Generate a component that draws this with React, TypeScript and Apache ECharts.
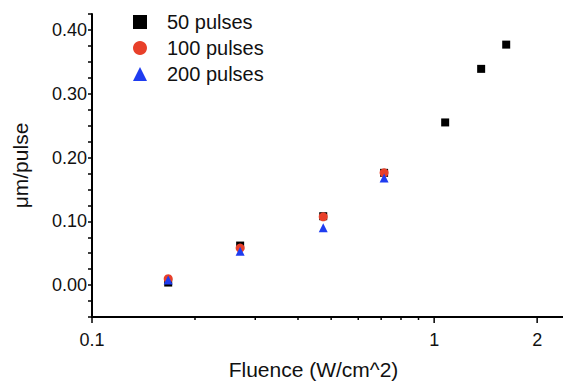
import React, { useEffect, useRef } from "react";
import * as echarts from "echarts";

// Fluence (W/cm^2) and ablation rate (µm/pulse)
const fluence50 = [0.167, 0.271, 0.474, 0.714, 1.077, 1.372, 1.624];
const rate50 = [0.004, 0.062, 0.108, 0.176, 0.255, 0.339, 0.377];
const fluence100 = [0.167, 0.271, 0.474, 0.714];
const rate100 = [0.010, 0.058, 0.107, 0.176];
const fluence200 = [0.167, 0.271, 0.474, 0.714];
const rate200 = [0.008, 0.053, 0.090, 0.168];

const seriesNames = ["50 pulses", "100 pulses", "200 pulses"];

// axis ticks
const xMajorTicks = [0.1, 1, 2];
const xMinorTicks = [0.2, 0.3, 0.4, 0.5, 0.6, 0.7, 0.8, 0.9];
const xExtraLabelValues = [2];
const xExtraLabels = ["2"];
const yMin = -0.05;
const yMax = 0.425;
const yStep = 0.025;
const xMin = 0.1;
const xMax = 2.38;

const FONT = "Liberation Sans, Arial, Helvetica, sans-serif";
const LABEL_MARGIN = 14;
const INK = "#111";

function zip(xs: number[], ys: number[]) {
  return xs.map((x, i) => [x, ys[i]]);
}

export default function App() {
  const ref = useRef<HTMLDivElement>(null);
  useEffect(() => {
    if (!ref.current) return;
    const chart = echarts.init(ref.current, null, { renderer: "svg" });
    const tickSeries = (vals: number[], len: number) => ({
      type: "custom",
      silent: true,
      clip: false,
      z: 5,
      data: vals.map((v) => [v, yMin]),
      encode: { x: 0, y: 1 },
      renderItem: (params: any, api: any) => {
        const p = api.coord([api.value(0), api.value(1)]);
        return {
          type: "line",
          shape: { x1: p[0], y1: p[1], x2: p[0], y2: p[1] + len },
          style: { stroke: "#000", lineWidth: 1.5 },
        };
      },
    });
    chart.setOption({
      animation: false,
      backgroundColor: "#fff",
      textStyle: { fontFamily: FONT },
      grid: { left: 92, right: 0, top: 14, bottom: 65, outerBoundsMode: "none", containLabel: false },
      legend: {
        data: seriesNames,
        orient: "vertical",
        left: 128,
        top: 7,
        itemWidth: 14,
        itemHeight: 14,
        itemGap: 6,
        textStyle: { fontSize: 20, color: INK, fontFamily: FONT, padding: [0, 0, 0, 15] },
      },
      xAxis: {
        type: "log",
        logBase: 10,
        min: xMin,
        max: xMax,
        name: "Fluence (W/cm^2)",
        nameLocation: "middle",
        nameGap: 42,
        nameTextStyle: { fontSize: 21, color: INK, fontFamily: FONT, padding: [0, 28, 0, 0] },
        axisLine: { onZero: false, lineStyle: { color: "#000", width: 2 } },
        axisTick: { show: false },
        splitLine: { show: false },
        minorTick: { show: false },
        axisLabel: {
          fontSize: 18,
          color: INK,
          margin: LABEL_MARGIN,
          showMaxLabel: false,
          formatter: (v: number) =>
            Math.abs(v - 0.1) < 1e-9 ? "0.1" : Math.abs(v - 1) < 1e-9 ? "1" : "",
        },
      },
      yAxis: {
        type: "value",
        min: yMin,
        max: yMax,
        interval: yStep,
        name: "\u03bcm/pulse",
        nameLocation: "middle",
        nameRotate: 90,
        nameGap: 61,
        nameTextStyle: { fontSize: 21, color: INK, fontFamily: FONT },
        axisLine: { onZero: false, lineStyle: { color: "#000", width: 2 } },
        axisTick: { length: 4, lineStyle: { color: "#000", width: 1.5 } },
        splitLine: { show: false },
        axisLabel: {
          fontSize: 18,
          color: INK,
          margin: 5,
          formatter: (v: number) => {
            const t = v * 10;
            if (Math.abs(t - Math.round(t)) > 1e-6) return "";
            const r = Math.round(t) / 10;
            return (Math.abs(r) < 1e-9 ? 0 : r).toFixed(2);
          },
        },
      },
      series: [
        {
          name: seriesNames[0],
          type: "scatter",
          symbol: "rect",
          symbolSize: 8,
          itemStyle: { color: "#000", opacity: 1 },
          data: zip(fluence50, rate50),
          z: 2,
        },
        {
          name: seriesNames[1],
          type: "scatter",
          symbol: "circle",
          symbolSize: 9,
          itemStyle: { color: "#e8402a", opacity: 1 },
          data: zip(fluence100, rate100),
          z: 3,
        },
        {
          name: seriesNames[2],
          type: "scatter",
          symbol: "triangle",
          symbolSize: 9,
          itemStyle: { color: "#1f3cf0", opacity: 1 },
          data: zip(fluence200, rate200),
          z: 4,
        },
        tickSeries(xMajorTicks, 6),
        tickSeries(xMinorTicks, 3),
        {
          type: "custom",
          silent: true,
          clip: false,
          data: xExtraLabelValues.map((v, i) => [v, yMin, i]),
          encode: { x: 0, y: 1 },
          renderItem: (params: any, api: any) => {
            const p = api.coord([api.value(0), api.value(1)]);
            return {
              type: "text",
              x: p[0],
              y: p[1] + LABEL_MARGIN,
              style: {
                text: xExtraLabels[api.value(2)],
                fontSize: 18,
                fontFamily: FONT,
                fill: INK,
                align: "center",
                verticalAlign: "top",
              },
            };
          },
        },
      ],
    });
    return () => chart.dispose();
  }, []);
  return (
    <div
      ref={ref}
      style={{ position: "absolute", left: 0, top: 0, width: 563, height: 382 }}
    />
  );
}
